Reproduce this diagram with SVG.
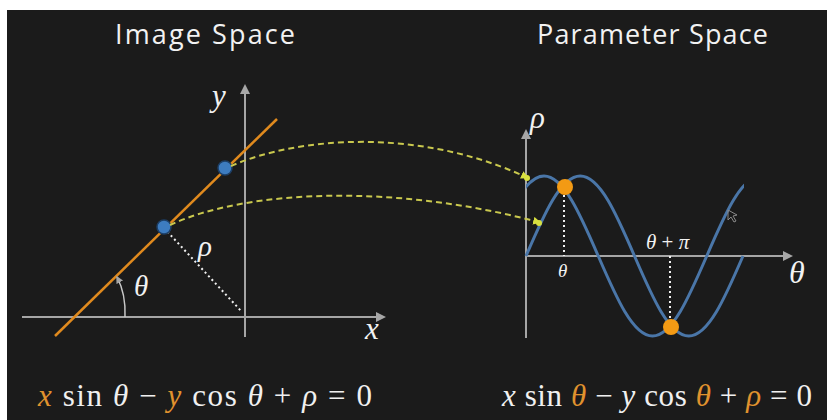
<svg xmlns="http://www.w3.org/2000/svg" width="827" height="420" viewBox="0 0 827 420">
<style>
.title{font-family:"Open Sans","Liberation Sans",sans-serif;font-size:27px;fill:#f2f2f2}
.math{font-family:"Liberation Serif","DejaVu Serif",serif;font-style:italic;fill:#f2f2f2}
.eq{font-family:"Liberation Serif","DejaVu Serif",serif;font-size:31px;fill:#f0f0f0}
.o{fill:#e0922e}
.i{font-style:italic}
.axis{stroke:#a6a6a6;stroke-width:2;fill:none}
.curve{stroke:#4a76a8;stroke-width:3;fill:none}
.dash{stroke:#c9c84e;stroke-width:2;stroke-dasharray:6 4;fill:none}
.dot{stroke:#f0f0f0;stroke-width:2;stroke-dasharray:2 3;fill:none}
</style>
<defs>
<marker id="ah" viewBox="0 0 10 10" refX="8" refY="5" markerWidth="5" markerHeight="5" orient="auto">
<path d="M0,0 L10,5 L0,10 z" fill="#a6a6a6"/>
</marker>
<marker id="yh" viewBox="0 0 10 10" refX="6" refY="5" markerWidth="4" markerHeight="4" orient="auto">
<path d="M0,0 L10,5 L0,10 z" fill="#d8e040"/>
</marker>
<clipPath id="clipB"><rect x="526" y="150" width="218" height="200"/></clipPath>
</defs>
<rect x="0" y="0" width="827" height="420" fill="#ffffff"/>
<rect x="7" y="10" width="820" height="410" fill="#1b1b1b"/>

<g id="titles">
<text class="title" x="115" y="44" textLength="180">Image Space</text>
<text class="title" x="537" y="44" textLength="231">Parameter Space</text>
</g>

<g id="image-space">
<line class="axis" x1="22" y1="317" x2="384" y2="317" marker-end="url(#ah)"/>
<line class="axis" x1="245" y1="337" x2="245" y2="86" marker-end="url(#ah)"/>
<text class="math" x="212" y="106" font-size="31">y</text>
<text class="math" x="365" y="339" font-size="31">x</text>
<line x1="55" y1="336" x2="277" y2="119" stroke="#e08a1e" stroke-width="2.5"/>
<line class="dot" x1="164" y1="228" x2="242" y2="312"/>
<path d="M125,317 Q126,294 117,277" stroke="#c8c8c8" stroke-width="1.5" fill="none" marker-end="url(#ah)"/>
<text class="math" x="134" y="296" font-size="29">θ</text>
<text class="math" x="198" y="256" font-size="29">ρ</text>
</g>

<g id="point-1">
<circle cx="225" cy="168" r="7" fill="#3d7cc0" stroke="#1d3f66" stroke-width="1.5"/>
</g>
<g id="point-2">
<circle cx="164" cy="227" r="7" fill="#3d7cc0" stroke="#1d3f66" stroke-width="1.5"/>
</g>

<g id="parameter-space">
<line class="axis" x1="526" y1="338" x2="526" y2="131" marker-end="url(#ah)"/>
<line class="axis" x1="526" y1="256" x2="791" y2="256" marker-end="url(#ah)"/>
<text class="math" x="530" y="128" font-size="31">ρ</text>
<text class="math" x="789" y="283" font-size="32">θ</text>
<path class="curve" d="M526,256 C544.1,214 560.7,176 580.25,176 S616.4,214 634.5,256 S669.2,336 688.75,336 S724.9,298 743,256"/>
<path class="curve" clip-path="url(#clipB)" d="M489.75,256 C507.9,214 524.5,176 544,176 S580.1,214 598.25,256 S633,336 652.5,336 S688.6,298 706.75,256 S741.5,176 761,176"/>
<line class="dot" x1="564" y1="190" x2="564" y2="256"/>
<line class="dot" x1="670" y1="256" x2="670" y2="325"/>
<text class="math" x="558" y="277" font-size="19">θ</text>
<text class="math" x="646" y="249" font-size="21">θ <tspan font-style="normal">+</tspan> π</text>
<circle cx="565" cy="187" r="8" fill="#f39a14"/>
<circle cx="671" cy="327" r="8" fill="#f39a14"/>
<path d="M728,210 L728,220 L731,217 L734,222 L736,221 L733,216 L737,215 Z" fill="none" stroke="#8a8a8a" stroke-width="1"/>
</g>

<g id="connectors">
<path class="dash" d="M231,166 C300,136 420,128 526,177" marker-end="url(#yh)"/>
<path class="dash" d="M170,225 C250,188 400,185 538,222" marker-end="url(#yh)"/>
<circle cx="527" cy="178" r="3" fill="#d8e040"/>
<circle cx="539" cy="223" r="3" fill="#d8e040"/>
</g>

<g id="equations">
<text class="eq" x="38" y="406" textLength="334"><tspan class="o i">x</tspan> sin <tspan class="i">θ</tspan> − <tspan class="o i">y</tspan> cos <tspan class="i">θ</tspan> + <tspan class="i">ρ</tspan> = 0</text>
<text class="eq" x="502" y="406" textLength="310"><tspan class="i">x</tspan> sin <tspan class="o i">θ</tspan> − <tspan class="i">y</tspan> cos <tspan class="o i">θ</tspan> + <tspan class="o i">ρ</tspan> = 0</text>
</g>
</svg>
